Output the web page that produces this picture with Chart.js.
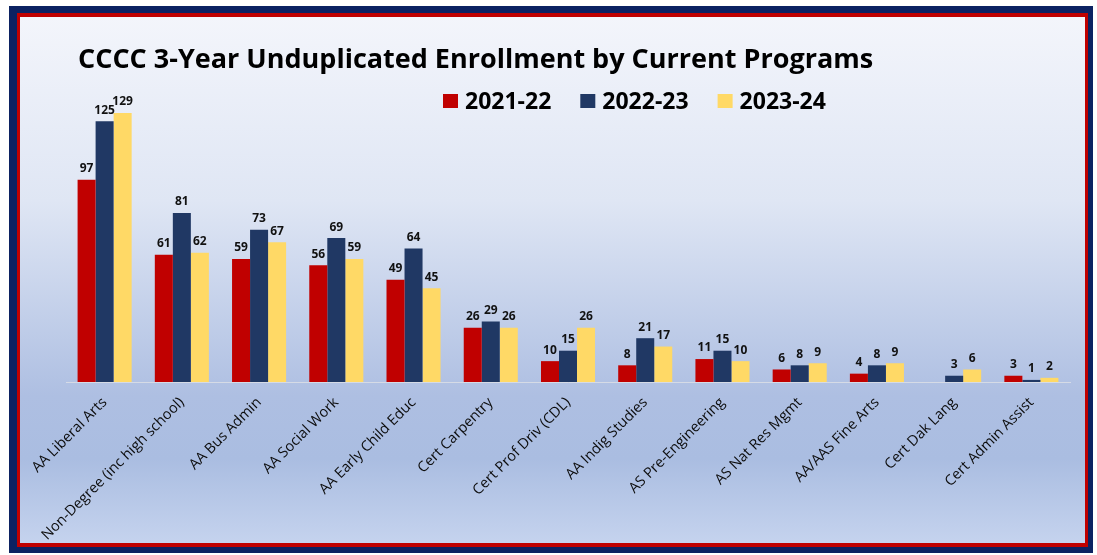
<!DOCTYPE html>
<html>
<head>
<meta charset="utf-8">
<title>CCCC 3-Year Unduplicated Enrollment by Current Programs</title>
<script src="https://cdn.jsdelivr.net/npm/chart.js@4.4.1/dist/chart.umd.min.js"></script>
<style>
    html, body { margin: 0; padding: 0; background: #ffffff; }
    #wrap { position: relative; width: 1097px; height: 555px; }
</style>
</head>
<body>
<div id="wrap"><canvas id="enrollChart" width="1097" height="555"></canvas></div>
<script>
const chartTitle = 'CCCC 3-Year Unduplicated Enrollment by Current Programs';

const programs = [
    'AA Liberal Arts', 'Non-Degree (inc high school)', 'AA Bus Admin', 'AA Social Work',
    'AA Early Child Educ', 'Cert Carpentry', 'Cert Prof Driv (CDL)', 'AA Indig Studies',
    'AS Pre-Engineering', 'AS Nat Res Mgmt', 'AA/AAS Fine Arts', 'Cert Dak Lang', 'Cert Admin Assist'
];

const years = ['2021-22', '2022-23', '2023-24'];

const enroll2122 = [97, 61, 59, 56, 49, 26, 10, 8, 11, 6, 4, null, 3];
const enroll2223 = [125, 81, 73, 69, 64, 29, 15, 21, 15, 8, 8, 3, 1];
const enroll2324 = [129, 62, 67, 59, 45, 26, 26, 17, 10, 9, 9, 6, 2];

const yearColors = ['#c00000', '#203864', '#ffd966'];

// frame + gradient panel behind everything
const framePlugin = {
    id: 'frame',
    beforeDraw(chart) {
        const ctx = chart.ctx;
        ctx.save();
        ctx.fillStyle = '#ffffff';
        ctx.fillRect(0, 0, chart.width, chart.height);
        ctx.fillStyle = '#0c2262';
        ctx.fillRect(9, 6, 1084, 547);
        ctx.fillStyle = '#c00000';
        ctx.fillRect(17, 13, 1071, 534);
        const grad = ctx.createLinearGradient(0, 17, 0, 543);
        grad.addColorStop(0, '#f3f5fb');
        grad.addColorStop(0.35, '#dfe6f4');
        grad.addColorStop(0.72, '#aebfe2');
        grad.addColorStop(0.84, '#aabde1');
        grad.addColorStop(1, '#c5d3ee');
        ctx.fillStyle = grad;
        ctx.fillRect(20, 17, 1065, 526);
        ctx.restore();
    }
};

// title and legend drawn in place
const headerPlugin = {
    id: 'header',
    afterDraw(chart) {
        const ctx = chart.ctx;
        ctx.save();
        ctx.fillStyle = '#000000';
        ctx.textBaseline = 'alphabetic';
        ctx.textAlign = 'left';
        ctx.font = 'bold 27px "Open Sans"';
        ctx.fillText(chartTitle, 78, 68);

        ctx.font = 'bold 23px "Open Sans"';
        ctx.textBaseline = 'middle';
        let x = 443;
        chart.data.datasets.forEach(ds => {
            ctx.fillStyle = ds.backgroundColor;
            ctx.fillRect(x, 94, 15, 14);
            ctx.fillStyle = '#000000';
            ctx.fillText(ds.label, x + 22, 102);
            x += 22 + ctx.measureText(ds.label).width + 29;
        });
        ctx.restore();
    }
};

// value labels above each bar
const valueLabelPlugin = {
    id: 'valueLabels',
    afterDatasetsDraw(chart) {
        const ctx = chart.ctx;
        ctx.save();
        ctx.font = 'bold 12px "Open Sans"';
        ctx.fillStyle = '#111111';
        ctx.textAlign = 'center';
        ctx.textBaseline = 'bottom';
        chart.data.datasets.forEach((ds, i) => {
            const meta = chart.getDatasetMeta(i);
            meta.data.forEach((bar, j) => {
                const v = ds.data[j];
                if (v === null || v === undefined) return;
                ctx.fillText(String(v), bar.x, bar.y - 5);
            });
        });
        ctx.restore();
    }
};

const ctx = document.getElementById('enrollChart').getContext('2d');
const enrollChart = new Chart(ctx, {
    type: 'bar',
    data: {
        labels: programs,
        datasets: [
            { label: years[0], data: enroll2122, backgroundColor: yearColors[0] },
            { label: years[1], data: enroll2223, backgroundColor: yearColors[1] },
            { label: years[2], data: enroll2324, backgroundColor: yearColors[2] }
        ]
    },
    options: {
        responsive: false,
        animation: false,
        layout: {
            padding: { left: 66, right: 27, top: 90, bottom: 12 }
        },
        datasets: {
            bar: { categoryPercentage: 0.7, barPercentage: 1.0 }
        },
        scales: {
            x: {
                grid: { display: false },
                border: { display: true, color: '#d6dbe6', width: 1 },
                ticks: {
                    minRotation: 45,
                    maxRotation: 45,
                    autoSkip: false,
                    color: '#0d0d0d',
                    font: { family: '"Open Sans"', size: 14.5 },
                    padding: 4
                },
                afterFit: scale => { scale.height = 161; }
            },
            y: {
                display: false,
                min: 0,
                max: 140
            }
        },
        plugins: {
            legend: { display: false },
            title: { display: false },
            tooltip: { enabled: false }
        }
    },
    plugins: [framePlugin, headerPlugin, valueLabelPlugin]
});
</script>
</body>
</html>
